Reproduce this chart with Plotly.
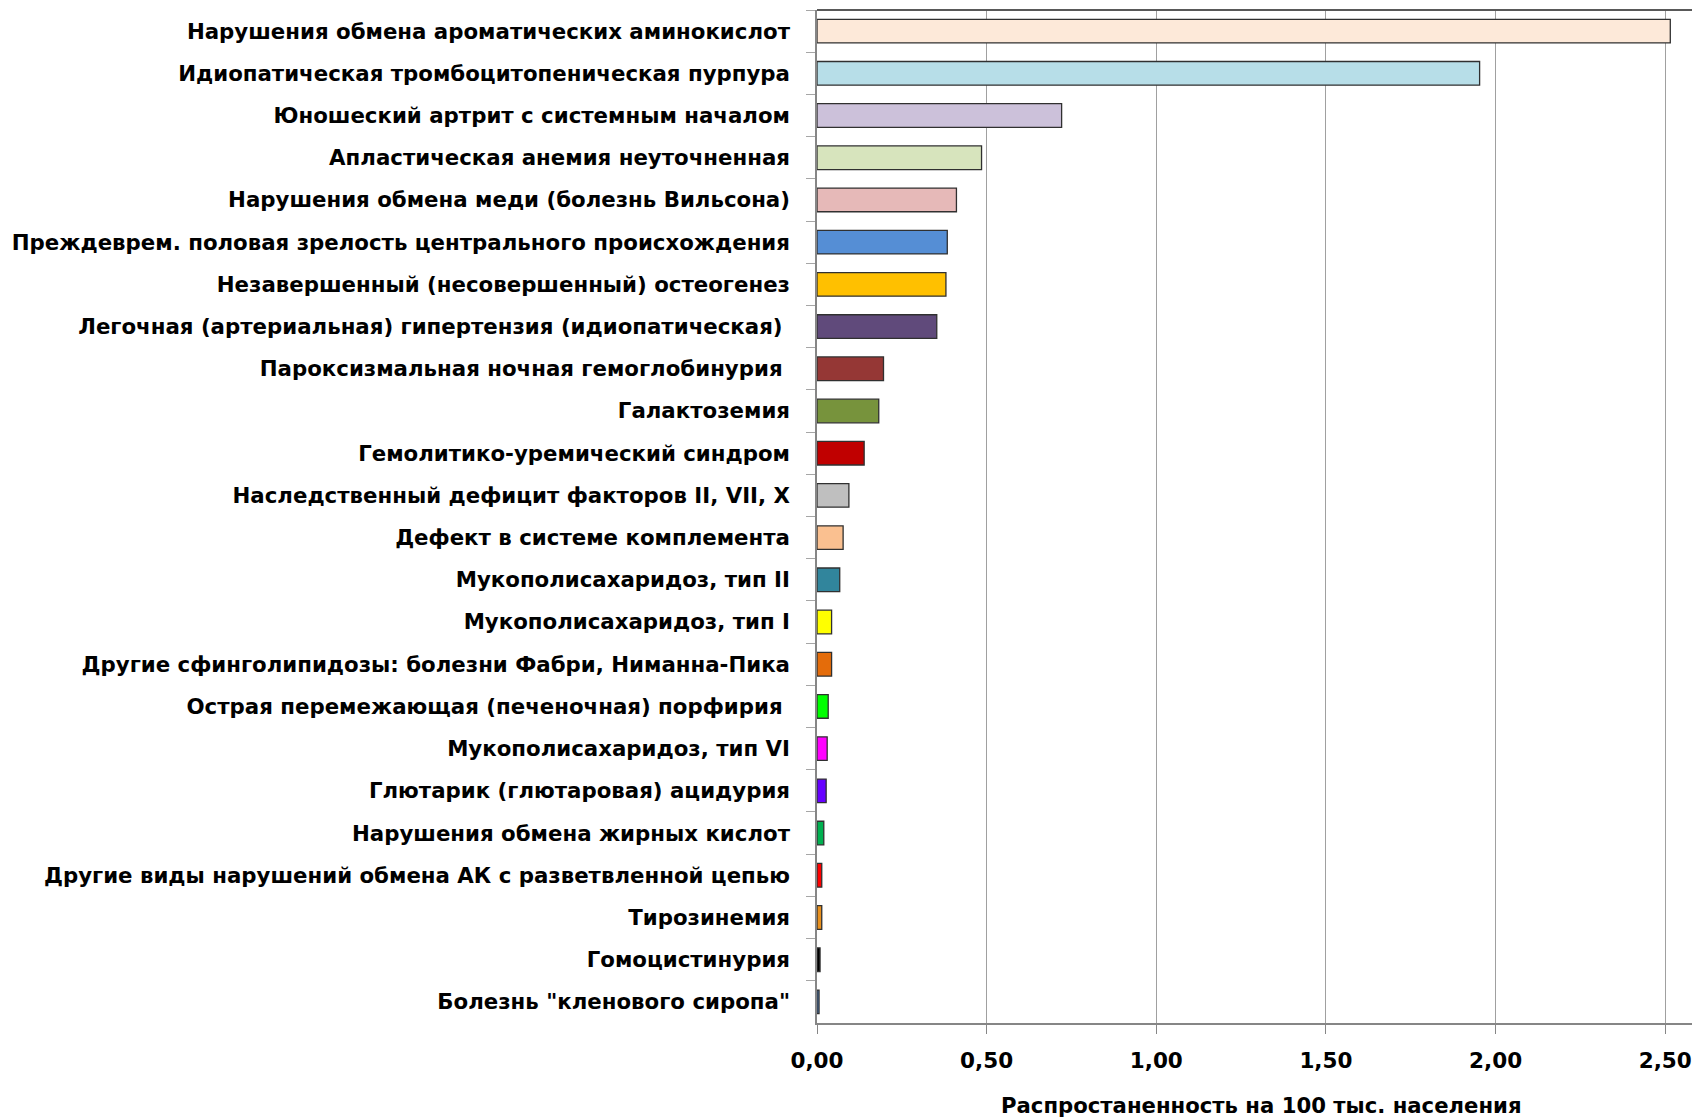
import plotly.graph_objects as go

categories = [
    "Нарушения обмена ароматических аминокислот",
    "Идиопатическая тромбоцитопеническая пурпура",
    "Юношеский артрит с системным началом",
    "Апластическая анемия неуточненная",
    "Нарушения обмена меди (болезнь Вильсона)",
    "Преждеврем. половая зрелость центрального происхождения",
    "Незавершенный (несовершенный) остеогенез",
    "Легочная (артериальная) гипертензия (идиопатическая)\u00a0",
    "Пароксизмальная ночная гемоглобинурия\u00a0",
    "Галактоземия",
    "Гемолитико-уремический синдром",
    "Наследственный дефицит факторов II, VII, X",
    "Дефект в системе комплемента",
    "Мукополисахаридоз, тип II",
    "Мукополисахаридоз, тип I",
    "Другие сфинголипидозы: болезни Фабри, Ниманна-Пика",
    "Острая перемежающая (печеночная) порфирия\u00a0",
    "Мукополисахаридоз, тип VI",
    "Глютарик (глютаровая) ацидурия",
    "Нарушения обмена жирных кислот",
    "Другие виды нарушений обмена АК с разветвленной цепью",
    "Тирозинемия",
    "Гомоцистинурия",
    "Болезнь \"кленового сиропа\"",
]

values = [2.515, 1.953, 0.721, 0.485, 0.411, 0.384, 0.380, 0.353, 0.196, 0.182,
          0.139, 0.094, 0.077, 0.067, 0.043, 0.043, 0.033, 0.030, 0.027, 0.020,
          0.014, 0.014, 0.009, 0.006]

colors = ["#FDE9D9", "#B7DEE8", "#CCC1DA", "#D7E4BD", "#E6B9B8", "#558ED5",
          "#FFC000", "#604A7B", "#953735", "#77933C", "#C00000", "#BFBFBF",
          "#FAC090", "#31859C", "#FFFF00", "#E46C0A", "#00FF00", "#FF00FF",
          "#6600FF", "#00B050", "#FF0000", "#E8901E", "#000000", "#4F81BD"]

x_ticks = [0, 0.5, 1.0, 1.5, 2.0, 2.5]
x_title = "Распростаненность на 100 тыс. населения"

FONT = "DejaVu Sans, Open Sans, sans-serif"

fig = go.Figure(go.Bar(
    x=values, y=categories, orientation="h",
    marker=dict(color=colors, line=dict(color="#303030", width=1.3)),
    width=0.56,
))

fig.update_layout(
    width=1692, height=1118,
    margin=dict(l=817, r=0, t=10, b=95),
    plot_bgcolor="white", paper_bgcolor="white",
    showlegend=False,
    separators=", ",
    font=dict(family=FONT, color="black"),
    xaxis=dict(
        range=[0, 2.579], tickvals=x_ticks, tickformat=".2f",
        showgrid=True, gridcolor="#A0A0A0", gridwidth=1,
        zeroline=False,
        showline=True, linecolor="#868686", linewidth=1.5,
        ticks="outside", ticklen=9, tickcolor="#868686", tickwidth=1,
        tickfont=dict(family=FONT, size=21.5, color="black", weight="bold"),
        ticklabelstandoff=8,
        ticklabeloverflow="allow",
    ),
    yaxis=dict(
        autorange="reversed",
        showline=True, linecolor="#868686", linewidth=1.5,
        ticks="outside", ticklen=9, tickcolor="#A6A6A6", tickwidth=1.3,
        tickson="boundaries",
        showgrid=False, zeroline=False,
        tickfont=dict(family=FONT, size=21.3, color="black", weight="bold"),
        ticklabelstandoff=21,
    ),
    shapes=[dict(type="line", xref="paper", yref="paper", x0=0, x1=1, y0=1, y1=1,
                 line=dict(color="#595959", width=2))],
    annotations=[dict(text=x_title, xref="paper", yref="paper", x=0.5084, y=0,
                      yshift=-82, xanchor="center", yanchor="middle", showarrow=False,
                      font=dict(family=FONT, size=21.2, color="black", weight="bold"))],
)

fig.write_html("out.html")
